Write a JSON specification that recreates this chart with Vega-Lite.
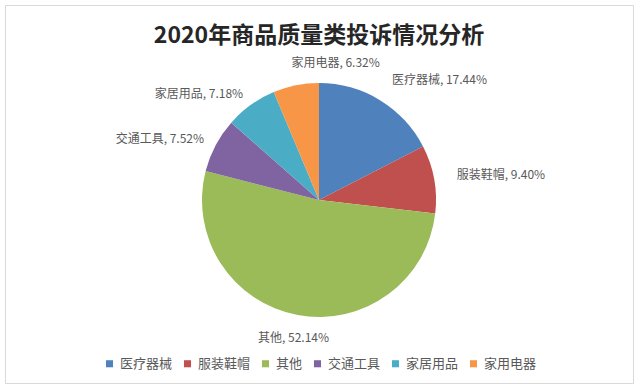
{
  "$schema": "https://vega.github.io/schema/vega-lite/v6.json",
  "width": 640,
  "height": 391,
  "autosize": {"type": "fit", "contains": "padding"},
  "padding": {"left": 5, "top": 5, "right": 7, "bottom": 8},
  "background": "white",
  "view": {"stroke": "#d9d9d9", "strokeWidth": 1},
  "title": {
    "text": "2020年商品质量类投诉情况分析",
    "font": "Noto Sans CJK SC",
    "fontSize": 23,
    "fontWeight": "bold",
    "color": "#262626",
    "anchor": "middle",
    "baseline": "top",
    "offset": -43
  },
  "data": {
    "values": [
      {"category": "医疗器械", "value": 17.44},
      {"category": "服装鞋帽", "value": 9.40},
      {"category": "其他", "value": 52.14},
      {"category": "交通工具", "value": 7.52},
      {"category": "家居用品", "value": 7.18},
      {"category": "家用电器", "value": 6.32}
    ]
  },
  "transform": [
    {"window": [{"op": "row_number", "as": "idx"}]},
    {"calculate": "datum.category + ', ' + format(datum.value, '.2f') + '%'", "as": "label"}
  ],
  "encoding": {
    "theta": {"field": "value", "type": "quantitative", "stack": true},
    "order": {"field": "idx", "type": "quantitative"}
  },
  "layer": [
    {
      "mark": {"type": "arc", "outerRadius": 117, "yOffset": 6},
      "encoding": {
        "color": {
          "field": "category",
          "type": "nominal",
          "scale": {
            "domain": ["医疗器械", "服装鞋帽", "其他", "交通工具", "家居用品", "家用电器"],
            "range": ["#4F81BD", "#C0504D", "#9BBB59", "#8064A2", "#4BACC6", "#F79646"]
          },
          "legend": {
            "orient": "none",
            "legendX": 98,
            "legendY": 352,
            "direction": "horizontal",
            "title": null,
            "symbolType": "square",
            "symbolSize": 50,
            "symbolStrokeWidth": 0,
            "labelFont": "Noto Sans CJK SC",
            "labelFontSize": 13,
            "labelColor": "#595959",
            "columnPadding": 8,
            "labelOffset": 4
          }
        }
      }
    },
    {
      "mark": {"type": "text", "radius": 140, "align": "left", "baseline": "middle", "dy": 6, "font": "Noto Sans CJK SC", "fontSize": 12, "color": "#595959"},
      "encoding": {
        "text": {"condition": {"test": "indexof(['医疗器械','服装鞋帽','家用电器'], datum.category) >= 0", "field": "label"}, "value": ""}
      }
    },
    {
      "mark": {"type": "text", "radius": 130, "align": "right", "baseline": "middle", "dy": 6, "font": "Noto Sans CJK SC", "fontSize": 12, "color": "#595959"},
      "encoding": {
        "text": {"condition": {"test": "indexof(['交通工具','家居用品'], datum.category) >= 0", "field": "label"}, "value": ""}
      }
    },
    {
      "mark": {"type": "text", "radius": 140, "align": "center", "baseline": "middle", "dy": 6, "font": "Noto Sans CJK SC", "fontSize": 12, "color": "#595959"},
      "encoding": {
        "text": {"condition": {"test": "datum.category == '其他'", "field": "label"}, "value": ""}
      }
    }
  ]
}
